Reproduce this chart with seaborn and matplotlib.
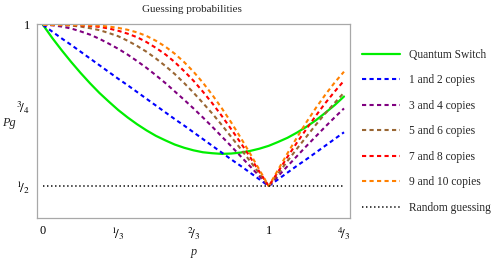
import pandas as pd
import seaborn as sns
import matplotlib.pyplot as plt

sns.set_theme(style='white')
plt.rcParams['font.family'] = ['Liberation Serif', 'DejaVu Serif']
plt.rcParams['mathtext.fontset'] = 'stix'
plt.rcParams['lines.scale_dashes'] = False

# sample points p = 0, 1/24, ..., 32/24
p = [i / 24 for i in range(33)]

switch = [1.0, 0.959, 0.921, 0.885, 0.851, 0.819, 0.789, 0.762, 0.736, 0.713, 0.692,
          0.673, 0.656, 0.642, 0.629, 0.619, 0.611, 0.605, 0.602, 0.600, 0.601, 0.604,
          0.609, 0.616, 0.625, 0.637, 0.650, 0.666, 0.684, 0.704, 0.727, 0.751, 0.778]
copies_1_2 = [1.0, 0.979, 0.958, 0.938, 0.917, 0.896, 0.875, 0.854, 0.833, 0.813, 0.792,
              0.771, 0.750, 0.729, 0.708, 0.688, 0.667, 0.646, 0.625, 0.604, 0.583, 0.563,
              0.542, 0.521, 0.500, 0.521, 0.542, 0.563, 0.583, 0.604, 0.625, 0.646, 0.667]
copies_3_4 = [1.0, 0.999, 0.995, 0.989, 0.980, 0.970, 0.957, 0.942, 0.926, 0.908, 0.888,
              0.867, 0.844, 0.820, 0.794, 0.768, 0.741, 0.713, 0.684, 0.654, 0.624, 0.593,
              0.562, 0.531, 0.500, 0.531, 0.562, 0.593, 0.624, 0.654, 0.684, 0.713, 0.741]
copies_5_6 = [1.0, 1.0, 0.999, 0.998, 0.995, 0.990, 0.984, 0.975, 0.965, 0.951, 0.935,
              0.917, 0.896, 0.873, 0.848, 0.820, 0.790, 0.758, 0.725, 0.690, 0.653, 0.616,
              0.578, 0.539, 0.500, 0.539, 0.578, 0.616, 0.653, 0.690, 0.725, 0.758, 0.790]
copies_7_8 = [1.0, 1.0, 1.0, 1.0, 0.999, 0.997, 0.994, 0.989, 0.982, 0.973, 0.962,
              0.947, 0.929, 0.909, 0.885, 0.857, 0.827, 0.793, 0.757, 0.718, 0.677, 0.635,
              0.591, 0.545, 0.500, 0.545, 0.591, 0.635, 0.677, 0.718, 0.757, 0.793, 0.827]
copies_9_10 = [1.0, 1.0, 1.0, 1.0, 1.0, 0.999, 0.998, 0.995, 0.991, 0.985, 0.977,
               0.966, 0.951, 0.933, 0.911, 0.885, 0.855, 0.821, 0.783, 0.742, 0.698, 0.651,
               0.602, 0.551, 0.500, 0.551, 0.602, 0.651, 0.698, 0.742, 0.783, 0.821, 0.855]
random_p = [0, 4 / 3]
random_guess = [0.5, 0.5]

xticks = [0, 1 / 3, 2 / 3, 1, 4 / 3]
xticklabels = ['0', r'$^{1}\!/_{3}$', r'$^{2}\!/_{3}$', '1', r'$^{4}\!/_{3}$']
yticks = [0.5, 0.75, 1.0]
yticklabels = [r'$^{1}\!/_{2}$', r'$^{3}\!/_{4}$', '1']

df = pd.DataFrame({'p': p, 'Quantum Switch': switch, '1 and 2 copies': copies_1_2,
                   '3 and 4 copies': copies_3_4, '5 and 6 copies': copies_5_6,
                   '7 and 8 copies': copies_7_8, '9 and 10 copies': copies_9_10})

dash = (0, (3.0, 2.4))
styles = {
    'Quantum Switch': dict(color='#00ee00', linestyle='-', lw=1.6),
    '1 and 2 copies': dict(color='#0000ff', linestyle=dash, lw=1.5),
    '3 and 4 copies': dict(color='#800080', linestyle=dash, lw=1.5),
    '5 and 6 copies': dict(color='#996633', linestyle=dash, lw=1.5),
    '7 and 8 copies': dict(color='#ff0000', linestyle=dash, lw=1.5),
    '9 and 10 copies': dict(color='#ff8000', linestyle=dash, lw=1.5),
}

fig = plt.figure(figsize=(4.98, 2.61), dpi=100)
ax = fig.add_axes([37 / 498, 1 - 218 / 261, 313 / 498, 194 / 261])

for name, st in styles.items():
    sns.lineplot(data=df, x='p', y=name, ax=ax, label=name, **st)
sns.lineplot(x=random_p, y=random_guess, ax=ax, label='Random guessing',
             color='black', linestyle=(0, (1.0, 1.9)), lw=1.1)

ax.set_xlim(-0.0266, 1.36)
ax.set_ylim(0.401, 1.003)
ax.set_xticks(xticks)
ax.set_xticklabels(xticklabels)
ax.set_yticks(yticks)
ax.set_yticklabels(yticklabels)
ax.tick_params(direction='in', length=3, width=0.8, color='#a0a0a0',
               labelsize=8.8, pad=5, labelcolor='black')
for t in ax.get_xticklabels() + ax.get_yticklabels():
    if '/' in t.get_text():
        t.set_fontsize(9.5)
for s in ax.spines.values():
    s.set_color('#a8a8a8')
    s.set_linewidth(0.9)

ax.set_xlabel('p', style='italic', fontsize=8.8)
ax.set_ylabel('Pg', style='italic', fontsize=8.8, rotation=0)
ax.xaxis.set_label_coords(0.5, -0.145)
ax.yaxis.set_label_coords(-0.09, 0.46)
fig.text(192 / 498, 1 - 9 / 261, 'Guessing probabilities', ha='center', va='center', fontsize=8)

ax.get_legend().remove()
h, l = ax.get_legend_handles_labels()
fig.legend(h, l, loc='upper left', bbox_to_anchor=(362 / 498, 1 - 49 / 261),
           frameon=False, fontsize=8.3, handlelength=3.3, handletextpad=0.75,
           labelspacing=1.17, borderpad=0, borderaxespad=0)

fig.savefig('out.png', dpi=100)
